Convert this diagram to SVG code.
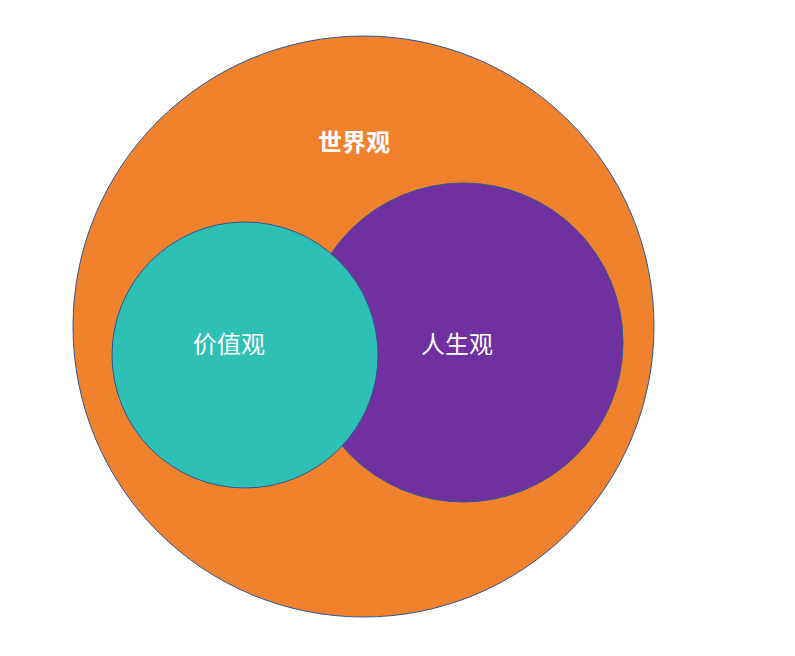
<svg xmlns="http://www.w3.org/2000/svg" width="795" height="656" viewBox="0 0 795 656">
<style>
.c{stroke:#2F5597;stroke-width:1}
.t{font-family:"Noto Sans CJK SC","Liberation Sans",sans-serif;font-size:24px;fill:#FFFFFF;text-anchor:middle;dominant-baseline:central}
</style>
<rect width="795" height="656" fill="#FFFFFF"/>
<g id="world">
<circle class="c" cx="363.5" cy="326.5" r="290.5" fill="#F0822E"/>
<text class="t" x="354" y="140" font-weight="bold">世界观</text>
</g>
<g id="life">
<circle class="c" cx="463.5" cy="342.5" r="159.5" fill="#7030A0"/>
<text class="t" x="457" y="342">人生观</text>
</g>
<g id="value">
<circle class="c" cx="245" cy="355" r="133" fill="#2EC0B4"/>
<text class="t" x="229" y="342">价值观</text>
</g>
<g id="connectors"/>
</svg>
